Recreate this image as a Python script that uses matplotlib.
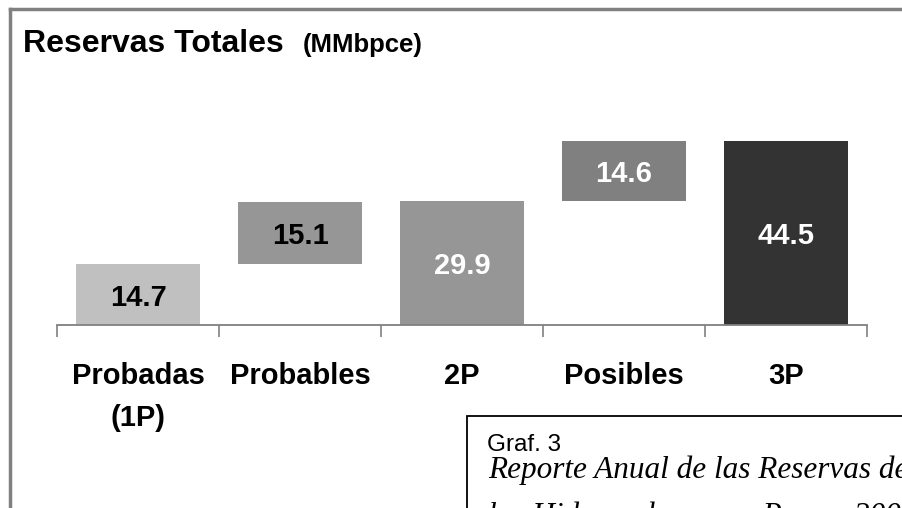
import numpy as np
import matplotlib.pyplot as plt
from matplotlib.lines import Line2D
from matplotlib.patches import Rectangle

# data
categories = ["Probadas\n(1P)", "Probables", "2P", "Posibles", "3P"]
values = [14.7, 15.1, 29.9, 14.6, 44.5]
bases = [0, 14.7, 0, 29.9, 0]
bar_colors = ["#c0c0c0", "#969696", "#969696", "#808080", "#333333"]
label_colors = ["black", "black", "white", "white", "white"]

W, H = 903, 508
plt.rcParams['font.family'] = ['Liberation Sans', 'DejaVu Sans']

fig = plt.figure(figsize=(W / 100, H / 100), dpi=100)


def fx(px):
    return px / W


def fy(py):
    return 1 - py / H


# outer gray frame (top + left, rest is cropped)
fig.add_artist(Line2D([fx(10), 1.0], [fy(8.5), fy(8.5)], color="#808080", lw=2.5))
fig.add_artist(Line2D([fx(10), fx(10)], [fy(8.5), 0.0], color="#808080", lw=2.5))

# plot area: baseline at y=325 px, categories spaced 162 px
ax = fig.add_axes([fx(57), fy(325), 810 / W, 225 / H])
x = np.arange(len(categories))
ax.bar(x, values, bottom=bases, width=0.77, color=bar_colors, linewidth=0)

for xi, v, b, c in zip(x, values, bases, label_colors):
    ax.text(xi, b + v / 2 - 0.7, f"{v:.1f}", ha="center", va="center",
            fontsize=21, fontweight="bold", color=c)

ax.set_xlim(-0.5, len(categories) - 0.5)
ax.set_ylim(0, 225 / 4.135)
for s in ["top", "right", "left"]:
    ax.spines[s].set_visible(False)
ax.spines["bottom"].set_color("#808080")
ax.spines["bottom"].set_linewidth(1.3)
ax.set_yticks([])

ax.set_xticks(x)
ax.set_xticklabels(categories, fontsize=21, fontweight="bold", linespacing=1.6)
ax.tick_params(axis="x", which="major", length=0, pad=27)
ax.set_xticks(np.arange(-0.5, len(categories)), minor=True)
ax.tick_params(axis="x", which="minor", length=8.5, width=1.2, color="#808080")

# title
fig.text(fx(23), fy(52), "Reservas Totales", fontsize=23, fontweight="bold",
         ha="left", va="baseline")
fig.text(fx(303), fy(52), "(MMbpce)", fontsize=18.5, fontweight="bold",
         ha="left", va="baseline")

# caption box (cropped at the right/bottom edges, as in the source)
fig.add_artist(Rectangle((fx(467), -0.05), 1.0, fy(416) + 0.05,
                         transform=fig.transFigure, facecolor="white",
                         edgecolor="black", lw=1.3, clip_on=False))
fig.text(fx(487), fy(451), "Graf. 3", fontsize=17.5, ha="left", va="baseline")
fig.text(fx(488), fy(478), "Reporte Anual de las Reservas de", fontsize=22.5,
         style="italic", family=["Liberation Serif", "DejaVu Serif"],
         ha="left", va="baseline")
fig.text(fx(488), fy(524), "los Hidrocarburos en Pemex 2007", fontsize=22.5,
         style="italic", family=["Liberation Serif", "DejaVu Serif"],
         ha="left", va="baseline")

fig.savefig("out.png", dpi=100)
